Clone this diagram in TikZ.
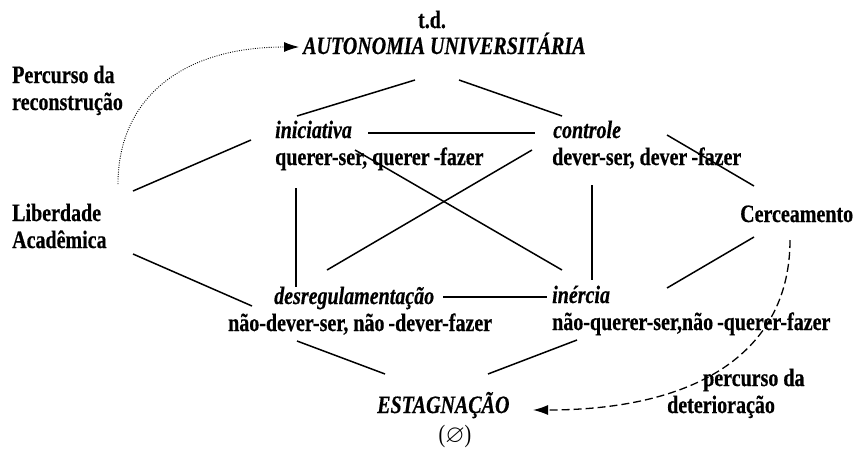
\documentclass[tikz,border=0pt]{standalone}
\usepackage{fontspec}
\usepackage{amssymb}
\setmainfont{Liberation Serif}[FakeStretch=0.8,
  BoldFeatures={FakeBold=0.5}, BoldItalicFeatures={FakeBold=0.5}]
\usetikzlibrary{arrows.meta}
\begin{document}
\begin{tikzpicture}[x=1pt,y=-1pt,
  lbl/.style={inner sep=0pt, anchor=base west, font=\fontsize{25}{27}\selectfont\bfseries},
  ilbl/.style={lbl, font=\fontsize{25}{27}\selectfont\bfseries\itshape},
  link/.style={line width=1.5pt},
  tip/.style={-{Latex[length=15pt,width=10pt]}}]
\useasboundingbox (0,0) rectangle (857,448);

% texts
\node[lbl, anchor=base] (td) at (432,28) {t.d.};
\node[ilbl] (auto) at (303,54) {AUTONOMIA UNIVERSIT\'ARIA};
\node[lbl] (perc1) at (12,83) {Percurso da};
\node[lbl] (perc2) at (12,110) {reconstrução};
\node[lbl] (lib1) at (12,221) {Liberdade};
\node[lbl] (lib2) at (12,248) {Acadêmica};
\node[ilbl] (inic) at (275,138) {iniciativa};
\node[lbl] (inicd) at (275,165) {querer-ser, querer\kern4pt-fazer};
\node[ilbl] (ctrl) at (553,138) {controle};
\node[lbl] (ctrld) at (552,165) {dever-ser, dever\kern4pt-fazer};
\node[lbl] (cerc) at (740,222) {Cerceamento};
\node[ilbl] (desreg) at (274,304) {desregulamentação};
\node[lbl] (desregd) at (228,331) {não-dever-ser, não\kern4pt-dever-fazer};
\node[ilbl] (inerc) at (552,303) {inércia};
\node[lbl] (inercd) at (552,330) {não-querer-ser,não\kern4pt-querer-fazer};
\node[ilbl] (estag) at (377,413) {ESTAGNAÇÃO};
\node[lbl, anchor=base, font=\fontsize{25}{27}\selectfont] (vazio) at (455,442) {(\ensuremath{\varnothing})};
\node[lbl] (det1) at (703,386) {percurso da};
\node[lbl] (det2) at (667,413) {deterioração};

% connector end points
\coordinate (a-i) at (415,80);  \coordinate (i-a) at (297,116);
\coordinate (a-c) at (459,80);  \coordinate (c-a) at (562,116);
\coordinate (i-c) at (368,133); \coordinate (c-i) at (535,133);
\coordinate (i-l) at (251,140); \coordinate (l-i) at (133,191);
\coordinate (l-d) at (133,254); \coordinate (d-l) at (252,306);
\coordinate (i-d) at (296,188); \coordinate (d-i) at (296,287);
\coordinate (i-n) at (355,150); \coordinate (n-i) at (562,270);
\coordinate (c-d) at (532,150); \coordinate (d-c) at (327,270);
\coordinate (c-n) at (592,185); \coordinate (n-c) at (592,280);
\coordinate (c-e) at (667,135); \coordinate (e-c) at (754,186);
\coordinate (e-n) at (754,237); \coordinate (n-e) at (667,288);
\coordinate (d-n) at (443,297); \coordinate (n-d) at (547,297);
\coordinate (d-s) at (297,341); \coordinate (s-d) at (385,374);
\coordinate (n-s) at (577,340); \coordinate (s-n) at (488,374);
\coordinate (rec0) at (118,184); \coordinate (rec1) at (299,47);
\coordinate (det0) at (790,240); \coordinate (det3) at (533,410);

\draw[link] (a-i) -- (i-a);
\draw[link] (a-c) -- (c-a);
\draw[link] (i-c) -- (c-i);
\draw[link] (i-l) -- (l-i);
\draw[link] (l-d) -- (d-l);
\draw[link] (i-d) -- (d-i);
\draw[link] (i-n) -- (n-i);
\draw[link] (c-d) -- (d-c);
\draw[link] (c-n) -- (n-c);
\draw[link] (c-e) -- (e-c);
\draw[link] (e-n) -- (n-e);
\draw[link] (d-n) -- (n-d);
\draw[link] (d-s) -- (s-d);
\draw[link] (n-s) -- (s-n);

\draw[tip, line width=0.9pt, dash pattern=on 0.9pt off 1.4pt]
  (rec0) .. controls (118,100) and (180,47) .. (rec1);
\draw[tip, line width=1.3pt, dash pattern=on 8pt off 4pt]
  (det0) .. controls (790,350) and (700,410) .. (det3);
\end{tikzpicture}
\end{document}
